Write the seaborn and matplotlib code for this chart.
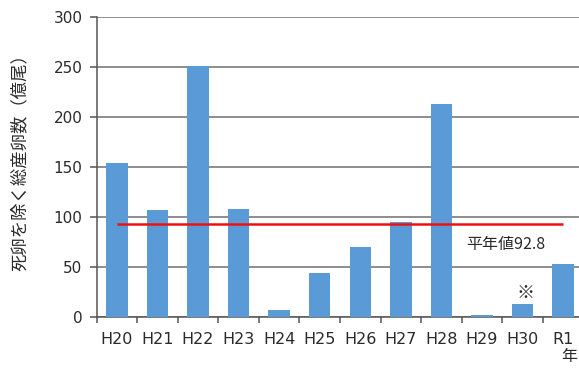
import matplotlib
matplotlib.use("Agg")
import matplotlib.pyplot as plt
import seaborn as sns
import numpy as np

years = ["H20", "H21", "H22", "H23", "H24", "H25", "H26", "H27", "H28", "H29", "H30", "R1"]
eggs = [154, 107, 251, 108, 7, 44, 70, 95, 213, 2, 13, 53]
normal_value = 92.8
y_ticks = [0, 50, 100, 150, 200, 250, 300]
note_year = "H30"

sns.set_theme(style="white")
plt.rcParams["font.family"] = ["DejaVu Sans", "Noto Sans CJK JP"]
TEXT = "#2a2a2a"
AXIS = "#555555"
CJK = ["Noto Sans CJK JP", "DejaVu Sans"]

fig = plt.figure(figsize=(5.79, 3.69), dpi=100)
ax = fig.add_axes([96.5 / 579, 52.3 / 369, 487 / 579, 300 / 369])

sns.barplot(x=years, y=eggs, color="#5A9AD6", width=0.53, saturation=1,
            linewidth=0, edgecolor="none", ax=ax, zorder=3)

ax.set_ylim(0, 300)
ax.set_xlim(-0.5, len(years) - 0.5)
ax.set_yticks(y_ticks)
ax.grid(axis="y", color="#6f6f6f", linewidth=1.1, zorder=1)
ax.set_axisbelow(True)

for side in ["top", "right"]:
    ax.spines[side].set_visible(False)
for side in ["left", "bottom"]:
    ax.spines[side].set_color(AXIS)
    ax.spines[side].set_linewidth(1.1)

# tick marks sit between the categories
ax.set_xticks(np.arange(-0.5, len(years), 1.0), minor=True)
ax.tick_params(axis="x", which="major", length=0, pad=11, labelsize=11.5, colors=TEXT)
ax.tick_params(axis="x", which="minor", length=4, width=1.1, color=AXIS, direction="out", bottom=True)
ax.tick_params(axis="y", length=5, width=1.1, color=AXIS, direction="out", left=True,
               labelsize=11, colors=TEXT, pad=5)

ax.set_ylabel("死卵を除く総産卵数（億尾）", fontsize=12.5, color=TEXT, family=CJK)
ax.yaxis.set_label_coords(-0.14, 0.53)
ax.set_xlabel("")

# normal-year average line
ax.hlines(normal_value, 0, len(years) - 1, color="#EE1111", linewidth=1.8, zorder=4)
ax.text(8.6, normal_value - 20.5, f"平年値{normal_value}", fontsize=11.5, color=TEXT,
        ha="left", va="center", zorder=5, family=CJK)

i_note = years.index(note_year)
ax.text(i_note + 0.07, eggs[i_note] + 11, "※", fontsize=13, color=TEXT,
        ha="center", va="center", zorder=5, family=CJK)

fig.text(561 / 579, 1 - 357 / 369, "年", fontsize=11.5, color=TEXT,
         ha="left", va="center", family=CJK)

fig.savefig("out.png", dpi=100, facecolor="white")
